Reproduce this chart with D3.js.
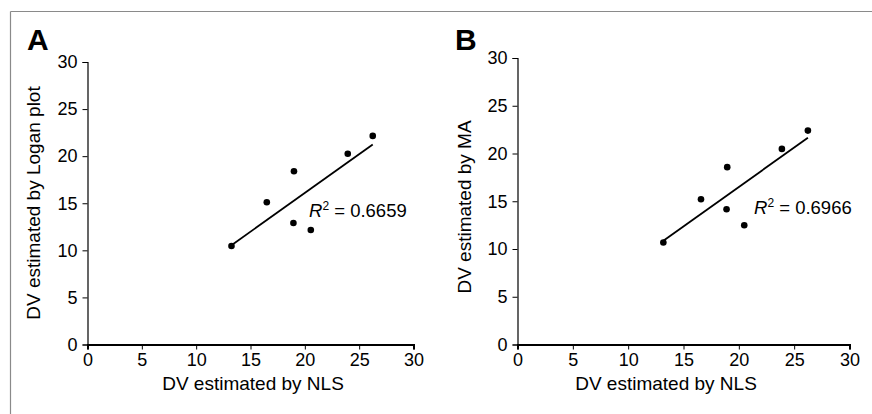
<!DOCTYPE html>
<html>
<head>
<meta charset="utf-8">
<script src="https://cdn.jsdelivr.net/npm/d3@7"></script>
<style>
  html, body { margin: 0; padding: 0; background: #fff; }
  svg { display: block; }
  text { font-family: "Liberation Sans", Arial, Helvetica, sans-serif; fill: #000; }
</style>
</head>
<body>
<svg id="chart" width="872" height="414"></svg>
<script>
// ---- data ----
const tickValues = [0, 5, 10, 15, 20, 25, 30];
const nlsA = [13.25, 16.5, 19.0, 18.95, 20.55, 23.95, 26.25];
const loganA = [10.46, 15.1, 18.4, 12.9, 12.16, 20.25, 22.15];
const nlsB = [13.18, 16.58, 18.95, 18.89, 20.49, 23.89, 26.24];
const maB = [10.68, 15.21, 18.57, 14.17, 12.49, 20.48, 22.4];
const panelLetters = ["A", "B"];
const xTitle = "DV estimated by NLS";
const yTitles = ["DV estimated by Logan plot", "DV estimated by MA"];
const r2Labels = ["0.6659", "0.6966"];

const svg = d3.select("#chart");

// frame (top and left edges)
svg.append("line").attr("x1", 10.5).attr("x2", 872).attr("y1", 11.5).attr("y2", 11.5)
  .attr("stroke", "#8a8a8a").attr("stroke-width", 1.2);
svg.append("line").attr("x1", 10.5).attr("x2", 10.5).attr("y1", 11.5).attr("y2", 414)
  .attr("stroke", "#8a8a8a").attr("stroke-width", 1.2);

const panels = [
  { xs: nlsA, ys: loganA, xr: [87.5, 413.5], yr: [344.5, 62], letter: [27, 50],
    yTitle: [40, 203], xTitleC: 253, r2: [309, 217] },
  { xs: nlsB, ys: maB, xr: [517.5, 849.5], yr: [344.5, 58], letter: [455, 50],
    yTitle: [471, 207], xTitleC: 666, r2: [754, 214] }
];

panels.forEach((p, i) => {
  const x = d3.scaleLinear().domain([0, 30]).range(p.xr);
  const y = d3.scaleLinear().domain([0, 30]).range(p.yr);
  const g = svg.append("g");

  // y axis
  const ya = g.append("g").attr("transform", `translate(${p.xr[0]},0)`)
    .call(d3.axisLeft(y).tickValues(tickValues).tickSize(5).tickPadding(5));
  ya.select(".domain").attr("stroke", "#000").attr("stroke-width", 1.2);
  ya.selectAll(".tick line").attr("stroke", "#000").attr("stroke-width", 1);
  ya.selectAll("text").style("font-size", "18px").attr("fill", "#000");

  // x axis
  const xa = g.append("g").attr("transform", `translate(0,${p.yr[0]})`)
    .call(d3.axisBottom(x).tickValues(tickValues).tickSize(5).tickPadding(4));
  xa.select(".domain").attr("stroke", "#000").attr("stroke-width", 2);
  xa.selectAll(".tick line").attr("stroke", "#000").attr("stroke-width", 1);
  xa.selectAll("text").style("font-size", "18px").attr("fill", "#000");

  // regression line (least squares through the data)
  const mx = d3.mean(p.xs), my = d3.mean(p.ys);
  let sxy = 0, sxx = 0;
  p.xs.forEach((v, k) => { sxy += (v - mx) * (p.ys[k] - my); sxx += (v - mx) * (v - mx); });
  const slope = sxy / sxx, icpt = my - slope * mx;
  const [x0, x1] = d3.extent(p.xs);
  g.append("line")
    .attr("x1", x(x0)).attr("y1", y(slope * x0 + icpt))
    .attr("x2", x(x1)).attr("y2", y(slope * x1 + icpt))
    .attr("stroke", "#000").attr("stroke-width", 1.8);

  // points
  g.selectAll("circle.pt").data(p.xs.map((v, k) => [v, p.ys[k]])).enter()
    .append("circle").attr("class", "pt")
    .attr("cx", d => x(d[0])).attr("cy", d => y(d[1])).attr("r", 3.3).attr("fill", "#000");

  // R² label
  const t = g.append("text").attr("x", p.r2[0]).attr("y", p.r2[1]).style("font-size", "18.5px");
  t.append("tspan").attr("font-style", "italic").text("R");
  t.append("tspan").attr("dy", -7.5).style("font-size", "12px").text("2");
  t.append("tspan").attr("dy", 7.5).text(" = " + r2Labels[i]);

  // panel letter
  g.append("text").attr("x", p.letter[0]).attr("y", p.letter[1])
    .style("font-size", "30px").style("font-weight", "bold").text(panelLetters[i]);

  // axis titles
  g.append("text").attr("x", p.xTitleC).attr("y", 390).attr("text-anchor", "middle")
    .style("font-size", "19px").text(xTitle);
  g.append("text").attr("transform", `translate(${p.yTitle[0]},${p.yTitle[1]}) rotate(-90)`)
    .attr("text-anchor", "middle").style("font-size", "19px").text(yTitles[i]);
});
</script>
</body>
</html>
